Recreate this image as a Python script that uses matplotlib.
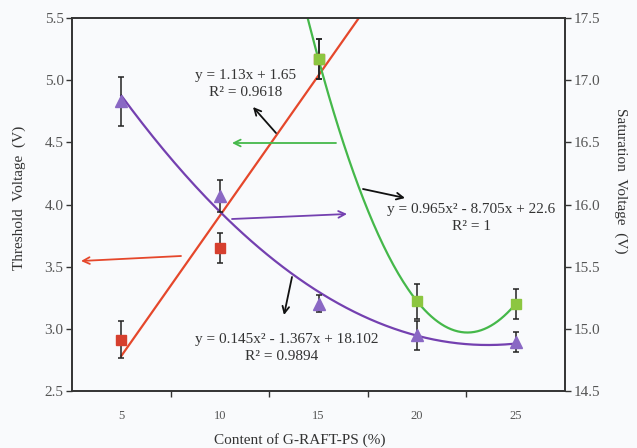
import numpy as np
import matplotlib
matplotlib.use("Agg")
import matplotlib.pyplot as plt

# ---------------------------------------------------------------------------
# Data
# ---------------------------------------------------------------------------
content_labels = ["5", "10", "15", "20", "25"]

# threshold voltage, rising branch (red) and falling branch (green)
red_pos = [1, 2, 3]
red_vals = [2.91, 3.65, 5.17]
red_err = [0.15, 0.12, 0.16]

green_pos = [3, 4, 5]
green_vals = [5.17, 3.22, 3.20]
green_err = [0.16, 0.14, 0.12]

# saturation voltage (purple, right axis)
sat_pos = [1, 2, 3, 4, 5]
sat_vals = [16.83, 16.07, 15.20, 14.945, 14.895]
sat_err = [0.20, 0.13, 0.07, 0.12, 0.08]

W, H = 637, 448
BG = "#f9fafc"
RED_LINE, RED_MK = "#e5472b", "#d63f2e"
GREEN_LINE, GREEN_MK = "#45b84a", "#8cc640"
PURPLE_LINE, PURPLE_MK = "#7440b0", "#8a68c4"
TXT = "#333333"
TICK = "#555555"

plt.rcParams.update({
    "font.family": ["Liberation Serif", "DejaVu Serif"],
    "font.size": 11,
})


def px(x, y):
    """pixel position in the 637x448 picture -> figure fraction"""
    return (x / W, 1 - y / H)


fig = plt.figure(figsize=(W / 100, H / 100), dpi=100, facecolor=BG)
left, right, top, bottom = 72, 565, 18.3, 390.7
ax = fig.add_axes([left / W, 1 - bottom / H, (right - left) / W, (bottom - top) / H])
ax.set_facecolor(BG)
ax2 = ax.twinx()

# trend lines
t = np.linspace(1, 3.6, 100)
ax.plot(t, np.polyval(np.polyfit(red_pos, red_vals, 1), t), color=RED_LINE, lw=1.6, zorder=2)
t = np.linspace(2.5, 5, 150)
ax.plot(t, np.polyval(np.polyfit(green_pos, green_vals, 2), t), color=GREEN_LINE, lw=1.6, zorder=2)
t = np.linspace(1, 5, 150)
ax2.plot(t, np.polyval(np.polyfit(sat_pos, sat_vals, 2), t), color=PURPLE_LINE, lw=1.6, zorder=2)

eb = dict(fmt="none", ecolor="#222222", elinewidth=1.1, capsize=2.5, capthick=1.1, zorder=3)
ax.errorbar(red_pos, red_vals, yerr=red_err, **eb)
ax.errorbar(green_pos, green_vals, yerr=green_err, **eb)
ax2.errorbar(sat_pos, sat_vals, yerr=sat_err, **eb)
ax.plot(red_pos, red_vals, "s", color=RED_MK, ms=7, zorder=4)
ax.plot(green_pos, green_vals, "s", color=GREEN_MK, ms=7, zorder=4)
ax2.plot(sat_pos, sat_vals, "^", color=PURPLE_MK, ms=8, zorder=4)

# axes
ax.set_xlim(0.5, 5.5)
ax.set_ylim(2.5, 5.5)
ax2.set_ylim(14.5, 17.5)
ax.set_yticks(np.arange(2.5, 5.51, 0.5))
ax2.set_yticks(np.arange(14.5, 17.51, 0.5))
ax.yaxis.set_major_formatter(matplotlib.ticker.FormatStrFormatter("%.1f"))
ax2.yaxis.set_major_formatter(matplotlib.ticker.FormatStrFormatter("%.1f"))
ax.set_xticks(range(1, 6))
ax.set_xticklabels(content_labels, fontsize=9, color=TICK)
ax.set_xticks([1.5, 2.5, 3.5, 4.5], minor=True)
ax.tick_params(axis="x", which="major", length=0, pad=14)
ax.tick_params(axis="x", which="minor", length=4, width=1, color="#333333")
ax.tick_params(axis="y", length=4, width=1, color="#333333", labelcolor=TICK, labelsize=11, pad=2)
ax2.tick_params(axis="y", length=4, width=1, color="#333333", labelcolor=TICK, labelsize=11, pad=2)
for a in (ax, ax2):
    for s in a.spines.values():
        s.set_color("#333333")
        s.set_linewidth(1.2)

fig.text(*px(19, 198), "Threshold  Voltage  (V)", rotation=90, ha="center", va="center",
         color=TXT, fontsize=11)
fig.text(*px(621, 181), "Saturation  Voltage  (V)", rotation=-90, ha="center", va="center",
         color=TXT, fontsize=11)
fig.text(*px(300, 440), "Content of G-RAFT-PS (%)", ha="center", va="center",
         color=TXT, fontsize=11)

# equations, one line per text so the spacing follows the reference
eq_style = dict(ha="center", va="center", color=TXT, fontsize=11)
fig.text(*px(246, 75.5), "y = 1.13x + 1.65", **eq_style)
fig.text(*px(246, 92), "R² = 0.9618", **eq_style)
fig.text(*px(471, 209), "y = 0.965x² - 8.705x + 22.6", **eq_style)
fig.text(*px(471, 226.5), "R² = 1", **eq_style)
fig.text(*px(287, 340), "y = 0.145x² - 1.367x + 18.102", **eq_style)
fig.text(*px(282, 356), "R² = 0.9894", **eq_style)

# arrows
arrows = [
    ((181, 256), (81, 261), RED_LINE),
    ((336, 143), (232, 143), GREEN_LINE),
    ((232, 219), (347, 214), PURPLE_LINE),
    ((276, 133), (253, 107), "#111111"),
    ((363, 189), (405, 198), "#111111"),
    ((292, 277), (284, 315), "#111111"),
]
for tail, head, c in arrows:
    ax2.annotate("", xy=px(*head), xytext=px(*tail), xycoords="figure fraction",
                 textcoords="figure fraction",
                 arrowprops=dict(arrowstyle="->", color=c, lw=1.3,
                                 shrinkA=0, shrinkB=0, mutation_scale=12))

fig.savefig("out.png", dpi=100, facecolor=BG)
